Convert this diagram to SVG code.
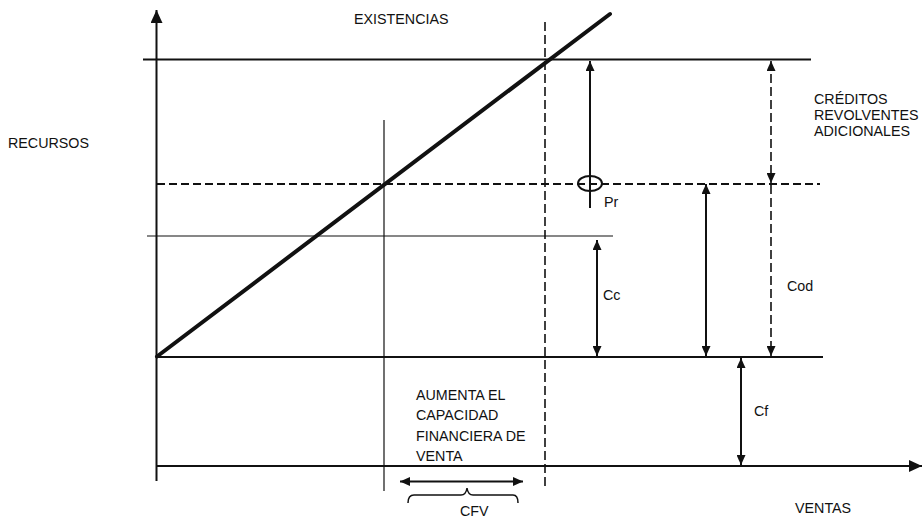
<svg xmlns="http://www.w3.org/2000/svg" width="923" height="519" viewBox="0 0 923 519">
<style>
.t{font-family:"Liberation Sans",Arial,sans-serif;font-size:14.3px;fill:#111}
.ln{stroke:#111;stroke-width:2;fill:none}
.th{stroke:#111;stroke-width:1.2;fill:none}
.ds{stroke:#111;stroke-width:2;fill:none;stroke-dasharray:8 4}
.dv{stroke:#111;stroke-width:1.6;fill:none;stroke-dasharray:9 4}
</style>
<defs>
<marker id="ah" markerUnits="userSpaceOnUse" markerWidth="10" markerHeight="9" refX="10" refY="4.5" orient="auto-start-reverse"><path d="M0,0 L10,4.5 L0,9 z" fill="#111"/></marker>
<marker id="ax" markerUnits="userSpaceOnUse" markerWidth="13" markerHeight="12" refX="13" refY="6" orient="auto"><path d="M0,0 L13,6 L0,12 z" fill="#111"/></marker>
</defs>
<g id="axes">
<line class="ln" x1="156.5" y1="481" x2="156.5" y2="10" marker-end="url(#ax)"/>
<line class="ln" x1="156" y1="466" x2="922" y2="466" marker-end="url(#ax)"/>
</g>
<g id="grid">
<line class="ln" x1="143" y1="59.5" x2="811" y2="59.5"/>
<line class="ds" x1="157" y1="184" x2="820" y2="184"/>
<line class="th" x1="147" y1="236" x2="613" y2="236"/>
<line class="ln" x1="156" y1="357" x2="823" y2="357"/>
<line class="th" x1="384" y1="120" x2="384" y2="491"/>
<line class="dv" x1="545" y1="22" x2="545" y2="490"/>
<line stroke="#111" stroke-width="4" stroke-linecap="round" x1="157" y1="356.5" x2="610" y2="14"/>
</g>
<g id="connectors">
<line class="ln" x1="590" y1="208" x2="590" y2="61" marker-end="url(#ah)"/>
<ellipse cx="590" cy="183.5" rx="12" ry="7.5" fill="none" stroke="#111" stroke-width="2"/>
<line class="dv" x1="771" y1="61" x2="771" y2="183" marker-start="url(#ah)" marker-end="url(#ah)"/>
<line class="dv" x1="771" y1="185" x2="771" y2="356" marker-end="url(#ah)"/>
<line class="ln" x1="706" y1="184" x2="706" y2="356" marker-start="url(#ah)" marker-end="url(#ah)"/>
<line class="ln" x1="597" y1="240" x2="597" y2="356" marker-start="url(#ah)" marker-end="url(#ah)"/>
<line class="ln" x1="741" y1="358" x2="741" y2="465" marker-start="url(#ah)" marker-end="url(#ah)"/>
<line class="ln" x1="400" y1="481.5" x2="523" y2="481.5" marker-start="url(#ah)" marker-end="url(#ah)"/>
<path d="M408,503 Q408,495 414,495 L461,495 Q466,495 467,488 Q468,495 473,495 L513,495 Q518,495 518,503" fill="none" stroke="#111" stroke-width="1.5"/>
</g>
<g id="labels">
<text class="t" x="354" y="24">EXISTENCIAS</text>
<text class="t" x="8" y="148">RECURSOS</text>
<text class="t" x="814" y="104">CRÉDITOS</text>
<text class="t" x="814" y="120">REVOLVENTES</text>
<text class="t" x="814" y="136">ADICIONALES</text>
<text class="t" x="604" y="207">Pr</text>
<text class="t" x="603" y="300">Cc</text>
<text class="t" x="787" y="291">Cod</text>
<text class="t" x="754" y="416">Cf</text>
<text class="t" x="416" y="400">AUMENTA EL</text>
<text class="t" x="416" y="420">CAPACIDAD</text>
<text class="t" x="416" y="441">FINANCIERA DE</text>
<text class="t" x="416" y="461">VENTA</text>
<text class="t" x="460" y="516">CFV</text>
<text class="t" x="795" y="513">VENTAS</text>
</g>
</svg>
